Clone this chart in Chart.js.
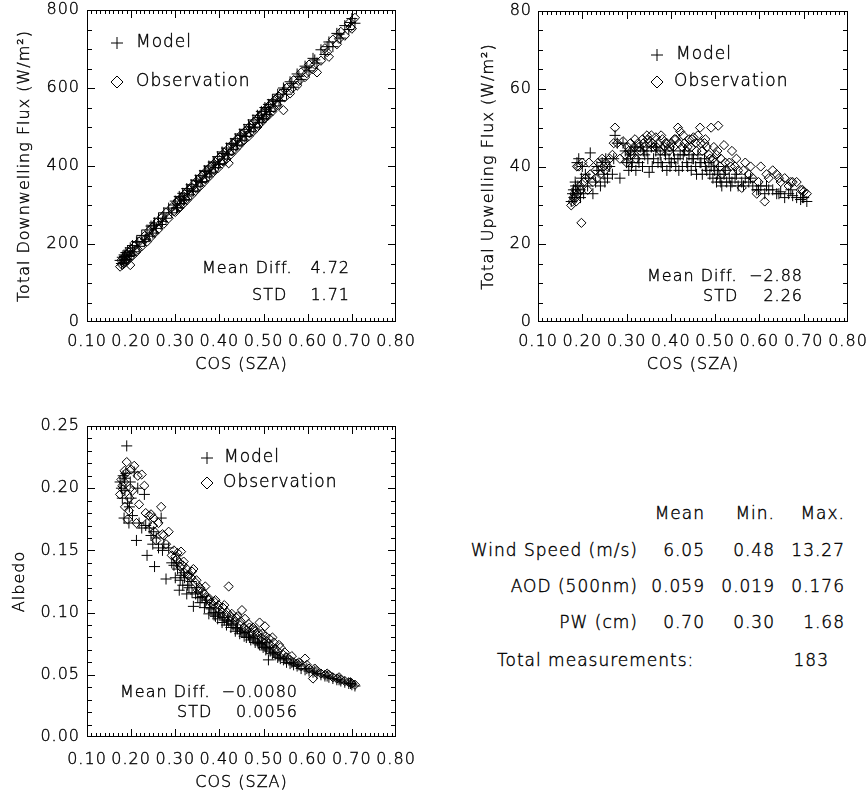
<!DOCTYPE html>
<html><head><meta charset="utf-8">
<script src="https://cdn.jsdelivr.net/npm/chart.js@4/dist/chart.umd.min.js"></script>
<style>
html,body{margin:0;padding:0;background:#fff;overflow:hidden;width:868px;height:793px;position:relative;}
.box{position:absolute;}
.t{position:absolute;font-family:'DejaVu Sans',sans-serif;font-weight:200;font-size:17px;letter-spacing:1px;color:#000;-webkit-text-stroke:0.4px #000;white-space:nowrap;line-height:20px;transform:translateY(-50%);}
</style></head><body>
<div class="box" style="left:0;top:0;width:434px;height:380px"><canvas id="c1"></canvas></div>
<div class="box" style="left:434px;top:0;width:440px;height:380px"><canvas id="c2"></canvas></div>
<div class="box" style="left:0;top:390px;width:434px;height:403px"><canvas id="c3"></canvas></div>
<div id="table"></div>
<script>
// ---- data ----
const cosSza = [0.175,0.178,0.180,0.182,0.184,0.186,0.188,0.190,0.192,0.195,
0.198,0.200,0.203,0.207,0.212,0.218,0.224,0.230,0.236,0.241,
0.245,0.249,0.253,0.257,0.262,0.268,0.274,0.279,0.285,0.292,
0.300,0.305,0.309,0.313,0.317,0.321,0.326,0.331,0.336,0.341,
0.346,0.351,0.356,0.361,0.366,0.371,0.376,0.381,0.386,0.391,
0.396,0.401,0.406,0.411,0.416,0.421,0.426,0.431,0.436,0.441,
0.446,0.451,0.456,0.461,0.466,0.471,0.476,0.481,0.486,0.491,
0.495,0.499,0.503,0.507,0.511,0.515,0.520,0.526,0.532,0.538,
0.545,0.552,0.560,0.568,0.576,0.585,0.594,0.603,0.612,0.621,
0.630,0.639,0.648,0.657,0.666,0.675,0.684,0.693,0.700,0.707,
0.185,0.196,0.215,0.233,0.251,0.271,0.297,0.303,0.311,0.319,
0.328,0.338,0.348,0.358,0.368,0.378,0.388,0.398,0.408,0.418,
0.428,0.438,0.448,0.458,0.468,0.478,0.488,0.497,0.505,0.513,
0.523,0.535,0.548,0.564,0.580,0.598,0.616,0.644,0.671,0.697];

const downModel = [158,150,166,152,172,160,178,160,182,168,
190,172,196,180,206,194,222,206,236,220,
246,228,254,240,266,250,280,266,292,280,
310,294,322,304,330,314,342,326,352,336,
364,348,376,360,388,372,400,384,410,396,
424,406,436,418,446,430,458,442,470,454,
482,466,494,476,506,488,518,500,530,512,
540,522,550,532,558,540,570,554,584,568,
600,584,616,602,636,622,656,644,676,664,
698,686,718,706,740,728,760,750,778,766,
168,170,205,212,248,258,300,292,318,312,
338,335,362,358,386,380,410,404,432,428,
456,452,478,476,500,498,524,520,546,540,
566,566,596,612,630,652,672,706,738,768];
const downObs = [142,158,146,162,150,168,154,174,158,178,
146,186,170,194,180,206,194,220,206,234,
218,244,228,254,238,266,252,280,266,294,
282,310,292,318,302,328,312,340,324,352,
336,364,348,376,360,388,372,398,384,410,
394,422,406,434,418,407,430,458,442,470,
454,482,466,492,476,504,488,516,500,528,
512,538,522,548,530,558,540,570,556,584,
543,600,586,620,606,640,628,660,648,640,
670,702,680,724,712,744,734,766,752,780,
155,165,186,214,230,270,284,306,296,322,
318,345,342,372,366,396,390,418,412,442,
438,464,460,488,484,512,505,532,526,552,
548,578,576,598,618,638,660,692,726,756];

const upModel = [31,33,34,32,36,33,41,35,42,34,
37,40,33,38,35,43.5,33,36,39,35,
41,38,42,37,40,38,48,46,37,46,
41,39,43,41,44,39,42,45,40,43,
44,38.5,45,42,44,41,43,40,44,39,
42,41,44,40,42,43,40,44,41,43,
39,42,40,43,41,38,42,39,41,40,
37,39,36,40,37,35,38,36,37,36,
37,35,36,37,36,35,34,35,33,34,
34,33,33.5,32,33,32.5,32,31.5,32,31,
35,32,37,40,36,42,44,42,40,45,
41,44,42,40,45,41,43,40,42,39,
43,40,42,38,41,40,38,40,38,36,
39,35,38,35,37,34,35,33,34,32];
const upObs = [30,31,32,33,34,31,40,33,40,35,
25.5,41,36,37,34,38,36,39,41,38,
42,40,41,40,42,43,50,46,42,46.5,
41,44,46,43,45,42,46,44,47,45,
48,46,48,45,47.5,46,44,47,45,46,
44,46,45,47,50,49,45,46,44,47,
45,47.5,46,48,50,44,46,45,43,50,
42,41,43,50.5,40,38,45.5,39,41,44,
40,39,34.5,41,38,37,33,40,31,37,
39,38,36,37,35,36,36,34,33.5,33,
32,34,41,37,39,46,43,45,44,47,
45,46,47,46,45,48,46,45,47,46,
48,45,47,44,46,47,42,45,44,42,
41,40,42,39,40,36,38,37,36,34];

const albModel = [0.205,0.200,0.192,0.210,0.176,0.198,0.212,0.234,0.188,0.172,
0.205,0.192,0.178,0.213,0.158,0.172,0.168,0.195,0.146,0.168,
0.162,0.155,0.137,0.160,0.152,0.176,0.155,0.127,0.152,0.140,
0.128,0.135,0.118,0.130,0.122,0.128,0.115,0.120,0.125,0.105,
0.115,0.112,0.108,0.113,0.104,0.110,0.099,0.103,0.100,0.097,
0.095,0.099,0.092,0.094,0.090,0.093,0.088,0.090,0.085,0.087,
0.083,0.085,0.081,0.080,0.082,0.078,0.079,0.076,0.077,0.074,
0.075,0.072,0.073,0.071,0.062,0.069,0.067,0.066,0.064,0.063,
0.062,0.060,0.059,0.058,0.057,0.055,0.054,0.053,0.052,0.051,
0.050,0.049,0.048,0.047,0.046,0.045,0.044,0.043,0.042,0.041,
0.208,0.185,0.200,0.170,0.165,0.150,0.138,0.140,0.126,0.132,
0.122,0.116,0.120,0.112,0.108,0.104,0.098,0.100,0.096,0.094,
0.091,0.088,0.086,0.084,0.080,0.081,0.075,0.076,0.070,0.072,
0.068,0.065,0.063,0.060,0.058,0.055,0.053,0.049,0.046,0.043];
const albObs = [0.195,0.207,0.202,0.199,0.205,0.185,0.212,0.221,0.175,0.182,
0.200,0.215,0.198,0.218,0.172,0.187,0.211,0.202,0.172,0.178,
0.179,0.170,0.165,0.158,0.172,0.185,0.162,0.155,0.165,0.146,
0.145,0.148,0.140,0.149,0.138,0.132,0.135,0.130,0.128,0.135,
0.124,0.118,0.120,0.117,0.115,0.112,0.110,0.108,0.106,0.110,
0.104,0.102,0.100,0.106,0.098,0.121,0.097,0.095,0.093,0.097,
0.090,0.102,0.088,0.086,0.091,0.084,0.088,0.085,0.082,0.092,
0.080,0.078,0.089,0.077,0.075,0.074,0.080,0.071,0.069,0.072,
0.066,0.064,0.062,0.060,0.059,0.057,0.063,0.055,0.047,0.053,
0.051,0.050,0.050,0.048,0.047,0.046,0.045,0.044,0.043,0.042,
0.214,0.192,0.210,0.180,0.176,0.163,0.150,0.143,0.137,0.141,
0.130,0.133,0.126,0.119,0.121,0.111,0.109,0.106,0.104,0.100,
0.099,0.096,0.093,0.095,0.088,0.086,0.084,0.083,0.081,0.079,
0.076,0.074,0.068,0.065,0.060,0.058,0.055,0.051,0.048,0.044];

const xTicks = [0.10,0.20,0.30,0.40,0.50,0.60,0.70,0.80];
const yTicksDown = [0,200,400,600,800];
const yTicksUp = [0,20,40,60,80];
const yTicksAlb = [0.00,0.05,0.10,0.15,0.20,0.25];
const xTitle = 'COS (SZA)';
const seriesNames = ['Model','Observation'];
const statLabels = ['Mean Diff.','STD'];
const statsDown = ['4.72','1.71'];
const statsUp = ['\u22122.88','2.26'];
const statsAlb = ['\u22120.0080','0.0056'];
const tableCols = ['Mean','Min.','Max.'];
const tableRows = ['Wind Speed (m/s)','AOD (500nm)','PW (cm)'];
const tableMean = ['6.05','0.059','0.70'];
const tableMin = ['0.48','0.019','0.30'];
const tableMax = ['13.27','0.176','1.68'];
const totalLabel = 'Total measurements:';
const totalCount = '183';

// ---- drawing ----
const FONT = "'DejaVu Sans', sans-serif";
const W = 200;
const SW = 0.4;
Chart.defaults.font.family = FONT;
Chart.defaults.font.weight = W;
Chart.defaults.color = '#000';

function plus(ctx,x,y,r){ctx.beginPath();ctx.moveTo(x-r,y);ctx.lineTo(x+r,y);ctx.moveTo(x,y-r);ctx.lineTo(x,y+r);ctx.stroke();}
function diamond(ctx,x,y,r){ctx.beginPath();ctx.moveTo(x-r,y);ctx.lineTo(x,y-r);ctx.lineTo(x+r,y);ctx.lineTo(x,y+r);ctx.closePath();ctx.stroke();}
function txt(ctx,s,x,y){ctx.lineWidth=SW;ctx.strokeText(s,x,y);ctx.fillText(s,x,y);}

const spacing = {id:'spacing', beforeDraw(chart){ chart.ctx.letterSpacing='1px'; }};

function drawFrame(chart, o){
  const ctx = chart.ctx, a = chart.chartArea;
  const x = chart.scales.x, y = chart.scales.y;
  ctx.save();
  ctx.fillStyle='#000';
  const L=Math.round(a.left), R=Math.round(a.right)-1, T=Math.round(a.top), B=Math.round(a.bottom)-1;
  ctx.fillRect(L,T,R-L+1,1); ctx.fillRect(L,B,R-L+1,1);
  ctx.fillRect(L,T,1,B-T+1); ctx.fillRect(R,T,1,B-T+1);
  const xt = o.xt, yt = o.yt;
  for(let i=0;i<xt.length;i++){
    const px=Math.min(R,Math.round(x.getPixelForValue(xt[i])));
    ctx.fillRect(px,B-7,1,7); ctx.fillRect(px,T+1,1,7);
    if(i<xt.length-1){
      for(let k=1;k<o.xMinor;k++){
        const v=xt[i]+(xt[i+1]-xt[i])*k/o.xMinor;
        const q=Math.round(x.getPixelForValue(v));
        ctx.fillRect(q,B-3,1,3); ctx.fillRect(q,T+1,1,3);
      }
    }
  }
  for(let i=0;i<yt.length;i++){
    const py=Math.min(B,Math.round(y.getPixelForValue(yt[i])));
    ctx.fillRect(L+1,py,7,1); ctx.fillRect(R-7,py,7,1);
    if(i<yt.length-1){
      for(let k=1;k<o.yMinor;k++){
        const v=yt[i]+(yt[i+1]-yt[i])*k/o.yMinor;
        const q=Math.round(y.getPixelForValue(v));
        ctx.fillRect(L+1,q,4,1); ctx.fillRect(R-4,q,4,1);
      }
    }
  }
  ctx.restore();
}

function makeChart(id, model, obs, yTicks, dec, yTitle, L, legend, stats){
  const pts = arr => cosSza.map((x,i)=>({x, y:arr[i]}));
  const cfgFrame = {xt:xTicks, yt:yTicks, xMinor:10, yMinor:L.yMinor};
  const overlay = {
    id:'overlay'+id,
    afterDraw(chart){
      drawFrame(chart, cfgFrame);
      const ctx=chart.ctx, a=chart.chartArea; ctx.save();
      ctx.letterSpacing='1px';
      ctx.strokeStyle='#000'; ctx.fillStyle='#000'; ctx.lineWidth=1;
      plus(ctx,legend.sx,legend.y1,6); diamond(ctx,legend.sx,legend.y2,6);
      ctx.font=W+" 17px "+FONT; ctx.textBaseline='middle'; ctx.textAlign='left';
      txt(ctx, chart.data.datasets[0].label, legend.tx1, legend.y1);
      txt(ctx, chart.data.datasets[1].label, legend.tx2, legend.y2);
      ctx.font=W+" 16px "+FONT;
      txt(ctx, statLabels[0], stats.lx1, stats.y1);
      txt(ctx, statLabels[1], stats.lx2, stats.y2);
      ctx.textAlign='right';
      txt(ctx, stats.values[0], stats.rx, stats.y1);
      txt(ctx, stats.values[1], stats.rx, stats.y2);
      // axis titles
      ctx.textAlign='center';
      txt(ctx, xTitle, (a.left+a.right)/2, L.xTitleY);
      ctx.translate(L.yTitleX, (a.top+a.bottom)/2);
      ctx.rotate(-Math.PI/2);
      txt(ctx, yTitle, 0, 0);
      ctx.restore();
    }
  };
  return new Chart(document.getElementById(id), {
    type:'scatter',
    data:{datasets:[
      {label:seriesNames[0], data:pts(model), pointStyle:'cross', pointRadius:5.5, borderColor:'#000', backgroundColor:'rgba(0,0,0,0)', borderWidth:1, pointHoverRadius:5.5},
      {label:seriesNames[1], data:pts(obs), pointStyle:'rectRot', pointRadius:4.6, borderColor:'#000', backgroundColor:'rgba(0,0,0,0)', borderWidth:1, pointHoverRadius:4.6}
    ]},
    options:{
      responsive:true, maintainAspectRatio:false, animation:false, events:[],
      layout:{padding:{left:0, top:L.top, right:L.right, bottom:0}},
      plugins:{legend:{display:false}, tooltip:{enabled:false}},
      scales:{
        x:{type:'linear', min:xTicks[0], max:xTicks[xTicks.length-1],
          afterBuildTicks:s=>{s.ticks=xTicks.map(v=>({value:v}));},
          afterFit:s=>{s.height=L.xh; s.paddingLeft=0; s.paddingRight=0;},
          grid:{display:false, drawTicks:false}, border:{display:false},
          ticks:{autoSkip:false, maxRotation:0, minRotation:0, padding:L.xpad, color:'#000', textStrokeColor:'#000', textStrokeWidth:SW, font:{size:16, lineHeight:1, weight:W}, callback:v=>Number(v).toFixed(2)},
          title:{display:false}
        },
        y:{type:'linear', min:yTicks[0], max:yTicks[yTicks.length-1],
          afterBuildTicks:s=>{s.ticks=yTicks.map(v=>({value:v}));},
          afterFit:s=>{s.width=L.yw; s.paddingTop=0; s.paddingBottom=0;},
          grid:{display:false, drawTicks:false}, border:{display:false},
          ticks:{autoSkip:false, padding:L.ypad, color:'#000', textStrokeColor:'#000', textStrokeWidth:SW, font:{size:16, lineHeight:1, weight:W}, callback:v=>Number(v).toFixed(dec)},
          title:{display:false}
        }
      }
    },
    plugins:[spacing, overlay]
  });
}

makeChart('c1', downModel, downObs, yTicksDown, 0, 'Total Downwelling Flux (W/m\u00B2)',
  {top:10, right:38, yw:87, xh:58, xpad:12, ypad:7, yMinor:4, xTitleY:365, yTitleX:25},
  {sx:117, y1:43, y2:82, tx1:136, tx2:136},
  {lx1:202, lx2:252, rx:350, y1:269, y2:296, values:statsDown});
makeChart('c2', upModel, upObs, yTicksUp, 0, 'Total Upwelling Flux (W/m\u00B2)',
  {top:11, right:26, yw:104, xh:58, xpad:12, ypad:6, yMinor:4, xTitleY:365, yTitleX:55},
  {sx:223, y1:55, y2:82, tx1:242, tx2:240},
  {lx1:213, lx2:269, rx:369, y1:277, y2:297, values:statsUp});
makeChart('c3', albModel, albObs, yTicksAlb, 2, 'Albedo',
  {top:36, right:38, yw:87, xh:56, xpad:15, ypad:7, yMinor:5, xTitleY:393, yTitleX:20},
  {sx:207, y1:68, y2:93, tx1:224, tx2:223},
  {lx1:120, lx2:177, rx:298, y1:303, y2:323, values:statsAlb});

// ---- table (real text) ----
const tb = document.getElementById('table');
function put(text, y, opts){
  const d=document.createElement('div'); d.className='t'; d.textContent=text;
  d.style.top=y+'px';
  if(opts.right!==undefined) d.style.right=(868-opts.right)+'px'; else d.style.left=opts.left+'px';
  tb.appendChild(d);
}
const colRight=[705,775,845], labelRight=638, rowY=[513,550,586,622];
tableCols.forEach((c,j)=>put(c,rowY[0],{right:colRight[j]}));
tableRows.forEach((r,i)=>{
  put(r,rowY[i+1],{right:labelRight});
  put(tableMean[i],rowY[i+1],{right:colRight[0]});
  put(tableMin[i],rowY[i+1],{right:colRight[1]});
  put(tableMax[i],rowY[i+1],{right:colRight[2]});
});
put(totalLabel,660,{left:497});
put(totalCount,660,{right:829});
</script>
</body></html>
